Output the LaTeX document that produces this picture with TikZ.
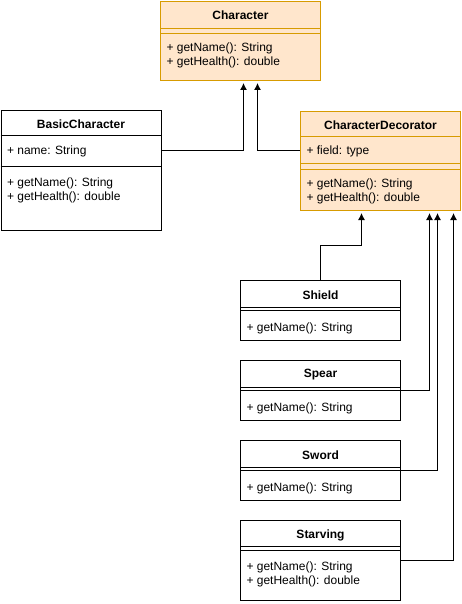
\documentclass[tikz,border=0pt]{standalone}
\usepackage{fontspec}
\setmainfont{Liberation Sans}
\usetikzlibrary{calc, arrows.meta}
\definecolor{decofill}{HTML}{FFE6CC}
\definecolor{decoline}{HTML}{D79B00}
\tikzset{umlclass/.style={draw, rectangle, minimum width=160pt, anchor=north west, inner sep=0pt},
 umlorange/.style={umlclass, fill=decofill, draw=decoline},
 umlhead/.style={font=\fontsize{12}{14}\selectfont\bfseries, inner sep=0pt},
 umltext/.style={anchor=west, align=left, inner sep=0pt},
 inherit/.style={-{Latex[length=7pt, width=7pt]}, shorten >=2pt}}
\newcommand*{\umlsep}[2][black]{\draw[#1] (#2) --++ (160,0);}

\begin{document}
\begin{tikzpicture}[x=1pt, y=-1pt, line width=1pt, font=\fontsize{12}{14}\selectfont]
 \useasboundingbox (0,0) rectangle (462,604);
 % interface
 \node[umlorange, minimum height=79pt] (chr) at (160,1) {};
 \node[umlhead] (chrname) at ($(chr.north)+(0,14)$) {Character};
 \umlsep[decoline]{160,29} \umlsep[decoline]{160,34}
 \node[umltext] (chrops) at (166,55.5) {+ getName(): String\\+ getHealth(): double};
 % concrete component
 \node[umlclass, minimum height=120pt] (basic) at (0.5,110) {};
 \node[umlhead] (basicname) at ($(basic.north)+(0,14)$) {BasicCharacter};
 \umlsep{0.5,136} \umlsep{0.5,166}
 \node[umltext] (basicattr) at (6.5,151) {+ name: String};
 \node[umltext] (basicops) at (6.5,190.5) {+ getName(): String\\+ getHealth(): double};
 % decorator
 \node[umlorange, minimum height=99pt] (deco) at (300,111) {};
 \node[umlhead] (deconame) at ($(deco.north)+(0,14)$) {CharacterDecorator};
 \umlsep[decoline]{300,137} \umlsep[decoline]{300,163} \umlsep[decoline]{300,169}
 \node[umltext] (decoattr) at (306,151) {+ field: type};
 \node[umltext] (decoops) at (306,191.5) {+ getName(): String\\+ getHealth(): double};
 % concrete decorators
 \node[umlclass, minimum height=60pt] (shield) at (240,280) {};
 \node[umlhead] (shieldname) at ($(shield.north)+(0,15)$) {Shield};
 \umlsep{240,307} \umlsep{240,310}
 \node[umltext] (shieldops) at (246,328) {+ getName(): String};
 \node[umlclass, minimum height=60pt] (spear) at (240,360) {};
 \node[umlhead] (spearname) at ($(spear.north)+(0,15)$) {Spear};
 \umlsep{240,387} \umlsep{240,390}
 \node[umltext] (spearops) at (246,408) {+ getName(): String};
 \node[umlclass, minimum height=60pt] (sword) at (240,440) {};
 \node[umlhead] (swordname) at ($(sword.north)+(0,15)$) {Sword};
 \umlsep{240,467} \umlsep{240,470}
 \node[umltext] (swordops) at (246,488) {+ getName(): String};
 \node[umlclass, minimum height=80pt] (starving) at (240,520) {};
 \node[umlhead] (starvingname) at ($(starving.north)+(0,15)$) {Starving};
 \umlsep{240,546} \umlsep{240,550}
 \node[umltext] (starvingops) at (246,574) {+ getName(): String\\+ getHealth(): double};
 % inheritance
 \draw[inherit] ([yshift=20pt]basic.east) -| ([xshift=3pt]chr.south);
 \draw[inherit] ([yshift=10.5pt]deco.west) -| ([xshift=17pt]chr.south);
 \draw[inherit] (shield.north) --++ (0,-35) -| ([xshift=-19pt]deco.south);
 \draw[inherit] (spear.east) -| ([xshift=49pt]deco.south);
 \draw[inherit] (sword.east) -| ([xshift=57pt]deco.south);
 \draw[inherit] (starving.east) -| ([xshift=73pt]deco.south);
\end{tikzpicture}
\end{document}
